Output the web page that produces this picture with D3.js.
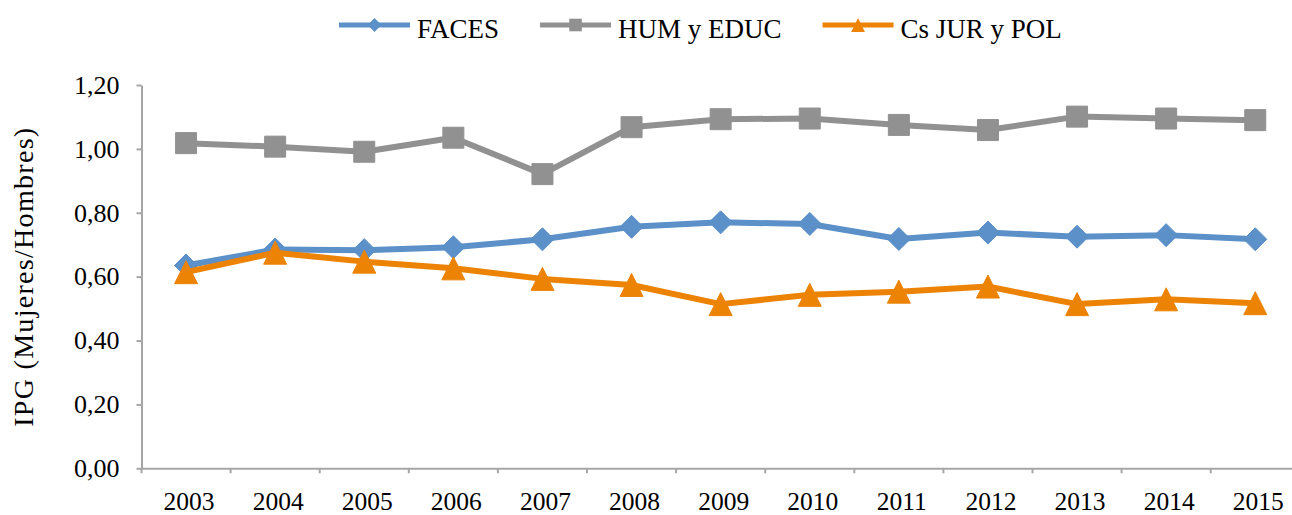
<!DOCTYPE html>
<html>
<head>
<meta charset="utf-8">
<script src="https://cdn.jsdelivr.net/npm/d3@7"></script>
<style>
    body { margin: 0; background: #fff; }
    text { font-family: "Liberation Serif", "Times New Roman", serif; fill: #000; }
</style>
</head>
<body>
<div id="grafico"></div>
<script>
// Datos del gráfico (IPG por facultad)
var anios = ["2003", "2004", "2005", "2006", "2007", "2008", "2009", "2010", "2011", "2012", "2013", "2014", "2015"];
var faces = [0.635, 0.685, 0.683, 0.692, 0.717, 0.756, 0.770, 0.765, 0.718, 0.738, 0.725, 0.730, 0.717];
var humEduc = [1.018, 1.007, 0.991, 1.035, 0.921, 1.068, 1.093, 1.095, 1.075, 1.059, 1.101, 1.095, 1.090];
var csJurPol = [0.614, 0.675, 0.647, 0.626, 0.593, 0.574, 0.514, 0.543, 0.553, 0.569, 0.514, 0.529, 0.517];
var ticksY = [0, 0.2, 0.4, 0.6, 0.8, 1.0, 1.2];
var nombresSeries = ["FACES", "HUM y EDUC", "Cs JUR y POL"];

var width = 1292, height = 515;

var svg = d3.select("#grafico")
    .append("svg")
    .attr("width", width)
    .attr("height", height);

// Escalas
var x = d3.scaleBand()
    .domain(anios)
    .range([141.5, 1299.8]);

var y = d3.scaleLinear()
    .domain([0, 1.2])
    .range([468.3, 85]);

// formato con coma decimal
var coma = d3.formatLocale({ decimal: ",", thousands: ".", grouping: [3], currency: ["", "€"] });
var fmt = coma.format(".2f");

// Eje Y
var ejeY = svg.append("g")
    .attr("transform", "translate(" + x.range()[0] + ",0)")
    .call(d3.axisLeft(y).tickValues(ticksY).tickFormat(fmt).tickSize(5).tickPadding(17).tickSizeOuter(0));

ejeY.selectAll("text").style("font-size", "26px");

// Eje X (las marcas van entre categorías, como en Excel)
var ejeX = svg.append("g")
    .attr("transform", "translate(0," + y(0) + ")")
    .call(d3.axisBottom(x).tickSize(0).tickPadding(24).tickSizeOuter(0));

ejeX.selectAll("text").style("font-size", "25.5px").attr("dx", "3px");

ejeX.selectAll(".limite")
    .data(anios)
    .enter()
    .append("line")
    .attr("class", "limite")
    .attr("x1", d => x(d))
    .attr("x2", d => x(d))
    .attr("y1", 0)
    .attr("y2", 5);

svg.selectAll(".domain, .tick line, .limite")
    .attr("stroke", "#a6a6a6")
    .attr("stroke-width", 2);

// Título del eje Y
svg.append("text")
    .attr("transform", "translate(33," + ((y(0) + y(1.2)) / 2) + ") rotate(-90)")
    .attr("text-anchor", "middle")
    .style("font-size", "28px")
    .style("letter-spacing", "1.3px")
    .text("IPG (Mujeres/Hombres)");

// Marcadores
function diamante(s) {
    return "M0," + (-s) + "L" + s + ",0L0," + s + "L" + (-s) + ",0Z";
}
function cuadrado(s) {
    return "M" + (-s) + "," + (-s) + "H" + s + "V" + s + "H" + (-s) + "Z";
}
function triangulo(s) {
    return "M0," + (-s) + "L" + s + "," + s + "L" + (-s) + "," + s + "Z";
}

var series = [
    { nombre: nombresSeries[0], valores: faces, color: "#5b90c8", marca: diamante, tam: 11.5 },
    { nombre: nombresSeries[1], valores: humEduc, color: "#919191", marca: cuadrado, tam: 10.5 },
    { nombre: nombresSeries[2], valores: csJurPol, color: "#ec8305", marca: triangulo, tam: 11.5 }
];

var linea = d3.line()
    .x((d, i) => x(anios[i]) + x.bandwidth() / 2)
    .y(d => y(d));

// Dibuja cada serie: línea y marcadores
series.forEach(function (s) {
    var g = svg.append("g");
    g.append("path")
        .attr("d", linea(s.valores))
        .attr("fill", "none")
        .attr("stroke", s.color)
        .attr("stroke-width", 6)
        .attr("stroke-linejoin", "round");

    g.selectAll(".marca")
        .data(s.valores)
        .enter()
        .append("path")
        .attr("class", "marca")
        .attr("transform", (d, i) => "translate(" + (x(anios[i]) + x.bandwidth() / 2) + "," + y(d) + ")")
        .attr("d", s.marca(s.tam))
        .attr("fill", s.color)
        .attr("stroke", s.color)
        .attr("stroke-width", 1)
        .attr("stroke-linejoin", "round");
});

// Leyenda
var leyenda = svg.append("g").attr("transform", "translate(339,25)");
var posX = 0;
series.forEach(function (s) {
    var item = leyenda.append("g").attr("transform", "translate(" + posX + ",0)");
    item.append("line")
        .attr("x1", 0)
        .attr("x2", 71)
        .attr("stroke", s.color)
        .attr("stroke-width", 5);
    item.append("path")
        .attr("transform", "translate(35.5,0)")
        .attr("d", s.marca(s.tam * 0.6))
        .attr("fill", s.color);
    var t = item.append("text")
        .attr("x", 78)
        .attr("y", 13.3)
        .style("font-size", "27px")
        .text(s.nombre);
    posX += 78 + t.node().getComputedTextLength() + 41;
});
</script>
</body>
</html>
